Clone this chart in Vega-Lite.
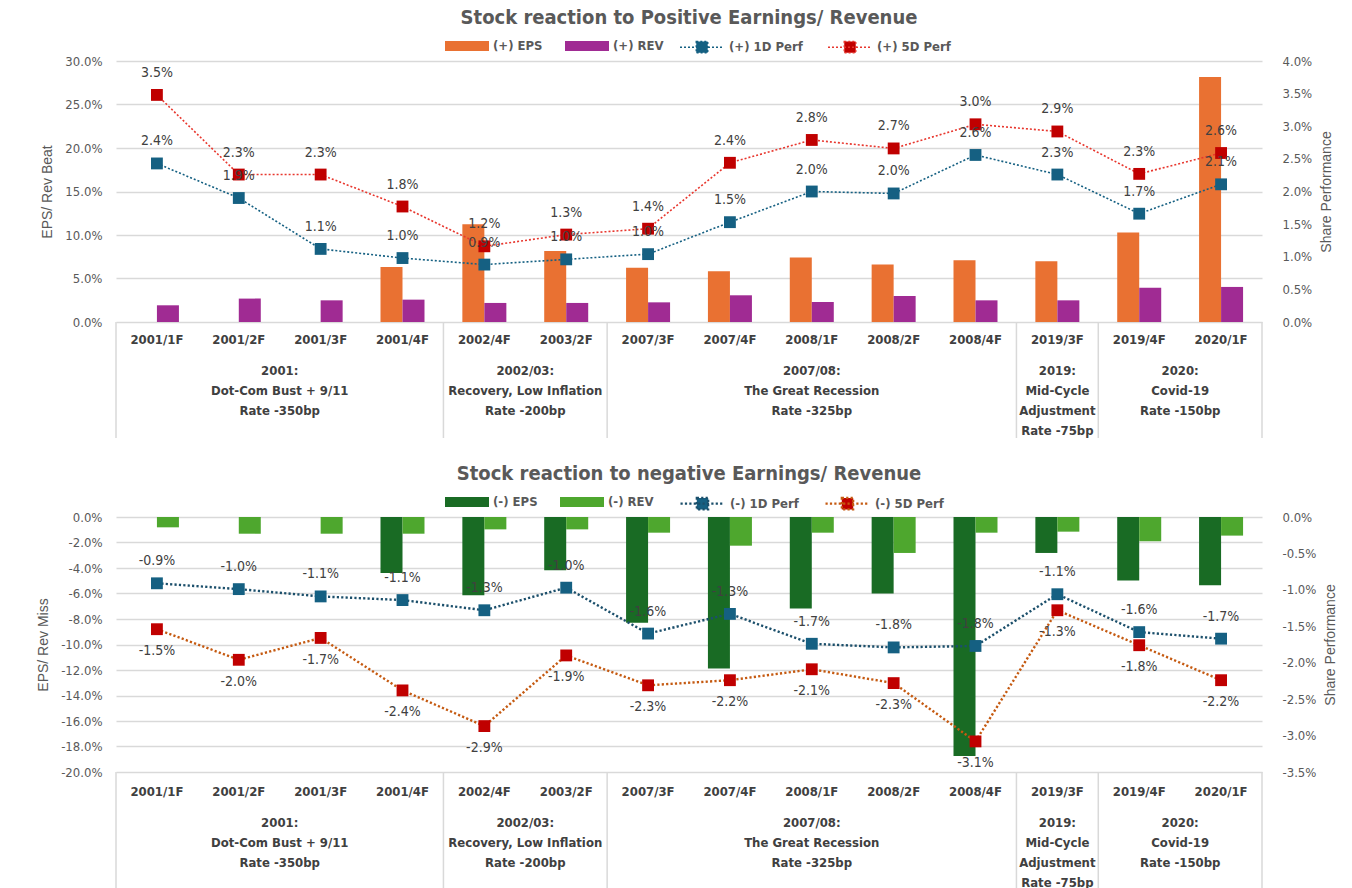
{
  "$schema": "https://vega.github.io/schema/vega-lite/v6.json",
  "padding": {"left": 36, "top": 8, "right": 10, "bottom": 0},
  "background": "white",
  "datasets": {
    "posBars": [
      {"cat": "2001/1F", "series": "(+) EPS", "v": 0}, {"cat": "2001/1F", "series": "(+) REV", "v": 0.0192},
      {"cat": "2001/2F", "series": "(+) EPS", "v": 0}, {"cat": "2001/2F", "series": "(+) REV", "v": 0.0269},
      {"cat": "2001/3F", "series": "(+) EPS", "v": 0}, {"cat": "2001/3F", "series": "(+) REV", "v": 0.0249},
      {"cat": "2001/4F", "series": "(+) EPS", "v": 0.0633}, {"cat": "2001/4F", "series": "(+) REV", "v": 0.0257},
      {"cat": "2002/4F", "series": "(+) EPS", "v": 0.1124}, {"cat": "2002/4F", "series": "(+) REV", "v": 0.0219},
      {"cat": "2003/2F", "series": "(+) EPS", "v": 0.0817}, {"cat": "2003/2F", "series": "(+) REV", "v": 0.0219},
      {"cat": "2007/3F", "series": "(+) EPS", "v": 0.0625}, {"cat": "2007/3F", "series": "(+) REV", "v": 0.0226},
      {"cat": "2007/4F", "series": "(+) EPS", "v": 0.0583}, {"cat": "2007/4F", "series": "(+) REV", "v": 0.0307},
      {"cat": "2008/1F", "series": "(+) EPS", "v": 0.0740}, {"cat": "2008/1F", "series": "(+) REV", "v": 0.0230},
      {"cat": "2008/2F", "series": "(+) EPS", "v": 0.0660}, {"cat": "2008/2F", "series": "(+) REV", "v": 0.0299},
      {"cat": "2008/4F", "series": "(+) EPS", "v": 0.0710}, {"cat": "2008/4F", "series": "(+) REV", "v": 0.0249},
      {"cat": "2019/3F", "series": "(+) EPS", "v": 0.0698}, {"cat": "2019/3F", "series": "(+) REV", "v": 0.0249},
      {"cat": "2019/4F", "series": "(+) EPS", "v": 0.1028}, {"cat": "2019/4F", "series": "(+) REV", "v": 0.0395},
      {"cat": "2020/1F", "series": "(+) EPS", "v": 0.2816}, {"cat": "2020/1F", "series": "(+) REV", "v": 0.0403}
    ],
    "posLines": [
      {"cat": "2001/1F", "series": "(+) 1D Perf", "v": 0.0243}, {"cat": "2001/1F", "series": "(+) 5D Perf", "v": 0.0348},
      {"cat": "2001/2F", "series": "(+) 1D Perf", "v": 0.0190}, {"cat": "2001/2F", "series": "(+) 5D Perf", "v": 0.0226},
      {"cat": "2001/3F", "series": "(+) 1D Perf", "v": 0.0112}, {"cat": "2001/3F", "series": "(+) 5D Perf", "v": 0.0226},
      {"cat": "2001/4F", "series": "(+) 1D Perf", "v": 0.0098}, {"cat": "2001/4F", "series": "(+) 5D Perf", "v": 0.0177},
      {"cat": "2002/4F", "series": "(+) 1D Perf", "v": 0.0088}, {"cat": "2002/4F", "series": "(+) 5D Perf", "v": 0.0116},
      {"cat": "2003/2F", "series": "(+) 1D Perf", "v": 0.0096}, {"cat": "2003/2F", "series": "(+) 5D Perf", "v": 0.0134},
      {"cat": "2007/3F", "series": "(+) 1D Perf", "v": 0.0104}, {"cat": "2007/3F", "series": "(+) 5D Perf", "v": 0.0143},
      {"cat": "2007/4F", "series": "(+) 1D Perf", "v": 0.0153}, {"cat": "2007/4F", "series": "(+) 5D Perf", "v": 0.0244},
      {"cat": "2008/1F", "series": "(+) 1D Perf", "v": 0.0200}, {"cat": "2008/1F", "series": "(+) 5D Perf", "v": 0.0279},
      {"cat": "2008/2F", "series": "(+) 1D Perf", "v": 0.0197}, {"cat": "2008/2F", "series": "(+) 5D Perf", "v": 0.0266},
      {"cat": "2008/4F", "series": "(+) 1D Perf", "v": 0.0256}, {"cat": "2008/4F", "series": "(+) 5D Perf", "v": 0.0303},
      {"cat": "2019/3F", "series": "(+) 1D Perf", "v": 0.0226}, {"cat": "2019/3F", "series": "(+) 5D Perf", "v": 0.0292},
      {"cat": "2019/4F", "series": "(+) 1D Perf", "v": 0.0166}, {"cat": "2019/4F", "series": "(+) 5D Perf", "v": 0.0227},
      {"cat": "2020/1F", "series": "(+) 1D Perf", "v": 0.0211}, {"cat": "2020/1F", "series": "(+) 5D Perf", "v": 0.0259}
    ],
    "negBars": [
      {"cat": "2001/1F", "series": "(-) EPS", "v": 0}, {"cat": "2001/1F", "series": "(-) REV", "v": -0.0081},
      {"cat": "2001/2F", "series": "(-) EPS", "v": 0}, {"cat": "2001/2F", "series": "(-) REV", "v": -0.0131},
      {"cat": "2001/3F", "series": "(-) EPS", "v": 0}, {"cat": "2001/3F", "series": "(-) REV", "v": -0.0131},
      {"cat": "2001/4F", "series": "(-) EPS", "v": -0.0439}, {"cat": "2001/4F", "series": "(-) REV", "v": -0.0131},
      {"cat": "2002/4F", "series": "(-) EPS", "v": -0.0614}, {"cat": "2002/4F", "series": "(-) REV", "v": -0.0097},
      {"cat": "2003/2F", "series": "(-) EPS", "v": -0.0418}, {"cat": "2003/2F", "series": "(-) REV", "v": -0.0097},
      {"cat": "2007/3F", "series": "(-) EPS", "v": -0.0830}, {"cat": "2007/3F", "series": "(-) REV", "v": -0.0123},
      {"cat": "2007/4F", "series": "(-) EPS", "v": -0.1188}, {"cat": "2007/4F", "series": "(-) REV", "v": -0.0225},
      {"cat": "2008/1F", "series": "(-) EPS", "v": -0.0718}, {"cat": "2008/1F", "series": "(-) REV", "v": -0.0123},
      {"cat": "2008/2F", "series": "(-) EPS", "v": -0.0600}, {"cat": "2008/2F", "series": "(-) REV", "v": -0.0282},
      {"cat": "2008/4F", "series": "(-) EPS", "v": -0.1875}, {"cat": "2008/4F", "series": "(-) REV", "v": -0.0123},
      {"cat": "2019/3F", "series": "(-) EPS", "v": -0.0282}, {"cat": "2019/3F", "series": "(-) REV", "v": -0.0115},
      {"cat": "2019/4F", "series": "(-) EPS", "v": -0.0499}, {"cat": "2019/4F", "series": "(-) REV", "v": -0.0191},
      {"cat": "2020/1F", "series": "(-) EPS", "v": -0.0535}, {"cat": "2020/1F", "series": "(-) REV", "v": -0.0146}
    ],
    "negLines": [
      {"cat": "2001/1F", "series": "(-) 1D Perf", "v": -0.0091}, {"cat": "2001/1F", "series": "(-) 5D Perf", "v": -0.0154},
      {"cat": "2001/2F", "series": "(-) 1D Perf", "v": -0.0099}, {"cat": "2001/2F", "series": "(-) 5D Perf", "v": -0.0196},
      {"cat": "2001/3F", "series": "(-) 1D Perf", "v": -0.0109}, {"cat": "2001/3F", "series": "(-) 5D Perf", "v": -0.0166},
      {"cat": "2001/4F", "series": "(-) 1D Perf", "v": -0.0114}, {"cat": "2001/4F", "series": "(-) 5D Perf", "v": -0.0238},
      {"cat": "2002/4F", "series": "(-) 1D Perf", "v": -0.0128}, {"cat": "2002/4F", "series": "(-) 5D Perf", "v": -0.0287},
      {"cat": "2003/2F", "series": "(-) 1D Perf", "v": -0.0097}, {"cat": "2003/2F", "series": "(-) 5D Perf", "v": -0.0190},
      {"cat": "2007/3F", "series": "(-) 1D Perf", "v": -0.0160}, {"cat": "2007/3F", "series": "(-) 5D Perf", "v": -0.0231},
      {"cat": "2007/4F", "series": "(-) 1D Perf", "v": -0.0133}, {"cat": "2007/4F", "series": "(-) 5D Perf", "v": -0.0224},
      {"cat": "2008/1F", "series": "(-) 1D Perf", "v": -0.0174}, {"cat": "2008/1F", "series": "(-) 5D Perf", "v": -0.0209},
      {"cat": "2008/2F", "series": "(-) 1D Perf", "v": -0.0179}, {"cat": "2008/2F", "series": "(-) 5D Perf", "v": -0.0228},
      {"cat": "2008/4F", "series": "(-) 1D Perf", "v": -0.0177}, {"cat": "2008/4F", "series": "(-) 5D Perf", "v": -0.0308},
      {"cat": "2019/3F", "series": "(-) 1D Perf", "v": -0.0106}, {"cat": "2019/3F", "series": "(-) 5D Perf", "v": -0.0128},
      {"cat": "2019/4F", "series": "(-) 1D Perf", "v": -0.0158}, {"cat": "2019/4F", "series": "(-) 5D Perf", "v": -0.0176},
      {"cat": "2020/1F", "series": "(-) 1D Perf", "v": -0.0167}, {"cat": "2020/1F", "series": "(-) 5D Perf", "v": -0.0224}
    ],
    "cats": [
      {"cat": "2001/1F"}, {"cat": "2001/2F"}, {"cat": "2001/3F"}, {"cat": "2001/4F"}, {"cat": "2002/4F"}, {"cat": "2003/2F"}, {"cat": "2007/3F"},
      {"cat": "2007/4F"}, {"cat": "2008/1F"}, {"cat": "2008/2F"}, {"cat": "2008/4F"}, {"cat": "2019/3F"}, {"cat": "2019/4F"}, {"cat": "2020/1F"}
    ],
    "seps": [
      {"cat": "2001/1F", "edge": "start"}, {"cat": "2002/4F", "edge": "start"}, {"cat": "2007/3F", "edge": "start"},
      {"cat": "2019/3F", "edge": "start"}, {"cat": "2019/4F", "edge": "start"}, {"cat": "2020/1F", "edge": "end"}
    ],
    "groups": [
      {"mid": "2001/3F", "even": true, "label": "2001:\nDot-Com Bust + 9/11\nRate -350bp"},
      {"mid": "2003/2F", "even": true, "label": "2002/03:\nRecovery, Low Inflation\nRate -200bp"},
      {"mid": "2008/1F", "even": false, "label": "2007/08:\nThe Great Recession\nRate -325bp"},
      {"mid": "2019/3F", "even": false, "label": "2019:\nMid-Cycle\nAdjustment\nRate -75bp"},
      {"mid": "2020/1F", "even": true, "label": "2020:\nCovid-19\nRate -150bp"}
    ]
  },
  "config": {
    "view": {"stroke": null},
    "font": "Liberation Sans Narrow, DejaVu Sans Condensed, Roboto Condensed, sans-serif",
    "locale": {"number": {"decimal": ".", "thousands": ",", "grouping": [3], "currency": ["$", ""], "minus": "-"}},
    "axis": {
      "labelFont": "Liberation Sans Narrow, DejaVu Sans Condensed, Roboto Condensed, sans-serif",
      "labelFontSize": 13, "labelColor": "#595959",
      "titleFont": "Liberation Sans, Arial, sans-serif", "titleFontSize": 14, "titleFontWeight": "normal", "titleColor": "#595959",
      "domain": false, "ticks": false
    },
    "legend": {"labelFont": "Liberation Sans Narrow, DejaVu Sans Condensed, Roboto Condensed, sans-serif", "labelFontSize": 13, "labelFontWeight": "bold", "labelColor": "#595959"},
    "title": {"font": "Liberation Sans Narrow, DejaVu Sans Condensed, Roboto Condensed, sans-serif", "fontSize": 20, "fontWeight": "bold", "color": "#595959", "anchor": "middle"},
    "text": {"font": "Liberation Sans Narrow, DejaVu Sans Condensed, Roboto Condensed, sans-serif"}
  },
  "spacing": 25,
  "resolve": {"scale": {"color": "independent", "fill": "independent", "stroke": "independent", "x": "independent", "y": "independent"}},
  "vconcat": [
    {
      "spacing": 0,
      "bounds": "flush",
      "resolve": {"scale": {"x": "independent", "y": "independent"}},
      "vconcat": [
        {
          "width": 1146, "height": 261,
          "title": {"text": "Stock reaction to Positive Earnings/ Revenue", "offset": 27},
          "resolve": {"scale": {"y": "independent"}},
          "layer": [
            {
              "data": {"name": "posBars"},
              "encoding": {
                "x": {"field": "cat", "type": "nominal", "scale": {"domain": ["2001/1F","2001/2F","2001/3F","2001/4F","2002/4F","2003/2F","2007/3F","2007/4F","2008/1F","2008/2F","2008/4F","2019/3F","2019/4F","2020/1F"], "paddingInner": 0, "paddingOuter": 0}, "axis": null},
                "y": {"field": "v", "type": "quantitative", "scale": {"domain": [0, 0.3]}, "axis": {"title": "EPS/ Rev Beat", "format": ".1%", "values": [0, 0.05, 0.1, 0.15, 0.2, 0.25, 0.3], "grid": true, "gridColor": "#D9D9D9", "gridWidth": 1.5, "labelPadding": 14, "titlePadding": 10}},
                "color": {
                  "field": "series", "type": "nominal",
                  "scale": {"domain": ["(+) EPS", "(+) REV"], "range": ["#E97132", "#A02B93"]},
                  "legend": {"title": null, "orient": "none", "legendX": 329, "legendY": -37, "direction": "horizontal", "columnPadding": 22, "labelOffset": 4, "symbolSize": 1936, "symbolType": "M-1,-0.23H1V0.23H-1Z", "symbolStrokeWidth": 0}
                }
              },
              "layer": [
                {"transform": [{"filter": "datum.series === '(+) EPS'"}], "mark": {"type": "bar", "width": 22, "xOffset": -11}},
                {"transform": [{"filter": "datum.series === '(+) REV'"}], "mark": {"type": "bar", "width": 22, "xOffset": 11}}
              ]
            },
            {
              "data": {"name": "posLines"},
              "encoding": {
                "x": {"field": "cat", "type": "nominal", "scale": {"domain": ["2001/1F","2001/2F","2001/3F","2001/4F","2002/4F","2003/2F","2007/3F","2007/4F","2008/1F","2008/2F","2008/4F","2019/3F","2019/4F","2020/1F"], "paddingInner": 0, "paddingOuter": 0}, "axis": null},
                "y": {"field": "v", "type": "quantitative", "scale": {"domain": [0, 0.04]}, "axis": {"orient": "right", "title": "Share Performance", "titleAngle": 270, "format": ".1%", "values": [0, 0.005, 0.01, 0.015, 0.02, 0.025, 0.03, 0.035, 0.04], "grid": false, "labelPadding": 20, "titlePadding": 22}}
              },
              "layer": [
                {
                  "mark": {"type": "line", "strokeDash": [2, 2], "strokeWidth": 1.6},
                  "encoding": {
                    "stroke": {"field": "series", "type": "nominal", "scale": {"domain": ["(+) 1D Perf", "(+) 5D Perf"], "range": ["#156082", "#E8372E"]},
                      "legend": {"title": null, "orient": "none", "legendX": 563, "legendY": -37, "direction": "horizontal", "columnPadding": 22, "labelOffset": 4, "symbolSize": 1936, "symbolType": "M-1,0H1M-0.26,-0.26H0.26V0.26H-0.26Z", "symbolStrokeWidth": 1.5, "symbolDash": [2, 2]}}
                  }
                },
                {
                  "mark": {"type": "point", "shape": "square", "filled": true, "size": 140, "opacity": 1},
                  "encoding": {
                    "fill": {"field": "series", "type": "nominal", "scale": {"domain": ["(+) 1D Perf", "(+) 5D Perf"], "range": ["#156082", "#C00000"]},
                      "legend": {"title": null, "orient": "none", "legendX": 563, "legendY": -37, "direction": "horizontal", "columnPadding": 22, "labelOffset": 4, "symbolSize": 1936, "symbolType": "M-1,0H1M-0.26,-0.26H0.26V0.26H-0.26Z", "symbolStrokeWidth": 1.5, "symbolDash": [2, 2]}}
                  }
                },
                {
                  "mark": {"type": "text", "dy": -22, "fontSize": 14, "color": "#404040"},
                  "encoding": {"text": {"field": "v", "type": "quantitative", "format": ".1%"}}
                }
              ]
            }
          ]
        },
        {
          "width": 1146, "height": 116,
          "layer": [
            {
              "data": {"name": "seps"}, "transform": [{"filter": "datum.edge === 'start'"}],
              "mark": {"type": "rule", "color": "#D9D9D9", "strokeWidth": 1.5},
              "encoding": {"x": {"field": "cat", "type": "nominal", "bandPosition": 0, "scale": {"domain": ["2001/1F","2001/2F","2001/3F","2001/4F","2002/4F","2003/2F","2007/3F","2007/4F","2008/1F","2008/2F","2008/4F","2019/3F","2019/4F","2020/1F"], "paddingInner": 0, "paddingOuter": 0}, "axis": null}}
            },
            {
              "data": {"name": "seps"}, "transform": [{"filter": "datum.edge === 'end'"}],
              "mark": {"type": "rule", "color": "#D9D9D9", "strokeWidth": 1.5},
              "encoding": {"x": {"field": "cat", "type": "nominal", "bandPosition": 1}}
            },
            {
              "data": {"name": "cats"},
              "mark": {"type": "text", "dy": -40, "fontSize": 13, "fontWeight": "bold", "color": "#404040"},
              "encoding": {"x": {"field": "cat", "type": "nominal", "bandPosition": 0.5}, "text": {"field": "cat", "type": "nominal"}}
            },
            {
              "data": {"name": "groups"}, "transform": [{"filter": "datum.even"}],
              "mark": {"type": "text", "baseline": "top", "dy": -15, "lineBreak": "\n", "lineHeight": 20, "fontSize": 13, "fontWeight": "bold", "color": "#404040"},
              "encoding": {"x": {"field": "mid", "type": "nominal", "bandPosition": 0}, "text": {"field": "label", "type": "nominal"}}
            },
            {
              "data": {"name": "groups"}, "transform": [{"filter": "!datum.even"}],
              "mark": {"type": "text", "baseline": "top", "dy": -15, "lineBreak": "\n", "lineHeight": 20, "fontSize": 13, "fontWeight": "bold", "color": "#404040"},
              "encoding": {"x": {"field": "mid", "type": "nominal", "bandPosition": 0.5}, "text": {"field": "label", "type": "nominal"}}
            }
          ]
        }
      ]
    },
    {
      "spacing": 0,
      "bounds": "flush",
      "resolve": {"scale": {"x": "independent", "y": "independent"}},
      "vconcat": [
        {
          "width": 1146, "height": 255,
          "title": {"text": "Stock reaction to negative Earnings/ Revenue", "offset": 27},
          "resolve": {"scale": {"y": "independent"}},
          "layer": [
            {
              "data": {"name": "negBars"},
              "encoding": {
                "x": {"field": "cat", "type": "nominal", "scale": {"domain": ["2001/1F","2001/2F","2001/3F","2001/4F","2002/4F","2003/2F","2007/3F","2007/4F","2008/1F","2008/2F","2008/4F","2019/3F","2019/4F","2020/1F"], "paddingInner": 0, "paddingOuter": 0}, "axis": null},
                "y": {"field": "v", "type": "quantitative", "scale": {"domain": [-0.2, 0]}, "axis": {"title": "EPS/ Rev Miss", "format": ".1%", "values": [-0.2, -0.18, -0.16, -0.14, -0.12, -0.1, -0.08, -0.06, -0.04, -0.02, 0], "grid": true, "gridColor": "#D9D9D9", "gridWidth": 1.5, "labelPadding": 14, "titlePadding": 10}},
                "color": {
                  "field": "series", "type": "nominal",
                  "scale": {"domain": ["(-) EPS", "(-) REV"], "range": ["#196B24", "#4EA72E"]},
                  "legend": {"title": null, "orient": "none", "legendX": 329, "legendY": -37, "direction": "horizontal", "columnPadding": 22, "labelOffset": 4, "symbolSize": 1936, "symbolType": "M-1,-0.23H1V0.23H-1Z", "symbolStrokeWidth": 0}
                }
              },
              "layer": [
                {"transform": [{"filter": "datum.series === '(-) EPS'"}], "mark": {"type": "bar", "width": 22, "xOffset": -11}},
                {"transform": [{"filter": "datum.series === '(-) REV'"}], "mark": {"type": "bar", "width": 22, "xOffset": 11}}
              ]
            },
            {
              "data": {"name": "negLines"},
              "encoding": {
                "x": {"field": "cat", "type": "nominal", "scale": {"domain": ["2001/1F","2001/2F","2001/3F","2001/4F","2002/4F","2003/2F","2007/3F","2007/4F","2008/1F","2008/2F","2008/4F","2019/3F","2019/4F","2020/1F"], "paddingInner": 0, "paddingOuter": 0}, "axis": null},
                "y": {"field": "v", "type": "quantitative", "scale": {"domain": [-0.035, 0]}, "axis": {"orient": "right", "title": "Share Performance", "titleAngle": 270, "format": ".1%", "values": [-0.035, -0.03, -0.025, -0.02, -0.015, -0.01, -0.005, 0], "grid": false, "labelPadding": 20, "titlePadding": 22}}
              },
              "layer": [
                {
                  "mark": {"type": "line", "strokeDash": [2.2, 2.2], "strokeWidth": 2.4},
                  "encoding": {
                    "stroke": {"field": "series", "type": "nominal", "scale": {"domain": ["(-) 1D Perf", "(-) 5D Perf"], "range": ["#1B4F6B", "#C55A11"]},
                      "legend": {"title": null, "orient": "none", "legendX": 563, "legendY": -37, "direction": "horizontal", "columnPadding": 22, "labelOffset": 4, "symbolSize": 1936, "symbolType": "M-1,0H1M-0.26,-0.26H0.26V0.26H-0.26Z", "symbolStrokeWidth": 2.2, "symbolDash": [2.2, 2.2]}}
                  }
                },
                {
                  "mark": {"type": "point", "shape": "square", "filled": true, "size": 140, "opacity": 1},
                  "encoding": {
                    "fill": {"field": "series", "type": "nominal", "scale": {"domain": ["(-) 1D Perf", "(-) 5D Perf"], "range": ["#156082", "#C00000"]},
                      "legend": {"title": null, "orient": "none", "legendX": 563, "legendY": -37, "direction": "horizontal", "columnPadding": 22, "labelOffset": 4, "symbolSize": 1936, "symbolType": "M-1,0H1M-0.26,-0.26H0.26V0.26H-0.26Z", "symbolStrokeWidth": 2.2, "symbolDash": [2.2, 2.2]}}
                  }
                },
                {
                  "transform": [{"filter": "datum.series === '(-) 1D Perf'"}],
                  "mark": {"type": "text", "dy": -22, "fontSize": 14, "color": "#404040"},
                  "encoding": {"text": {"field": "v", "type": "quantitative", "format": ".1%"}}
                },
                {
                  "transform": [{"filter": "datum.series === '(-) 5D Perf'"}],
                  "mark": {"type": "text", "dy": 22, "fontSize": 14, "color": "#404040"},
                  "encoding": {"text": {"field": "v", "type": "quantitative", "format": ".1%"}}
                }
              ]
            }
          ]
        },
        {
          "width": 1146, "height": 116,
          "layer": [
            {
              "data": {"name": "seps"}, "transform": [{"filter": "datum.edge === 'start'"}],
              "mark": {"type": "rule", "color": "#D9D9D9", "strokeWidth": 1.5},
              "encoding": {"x": {"field": "cat", "type": "nominal", "bandPosition": 0, "scale": {"domain": ["2001/1F","2001/2F","2001/3F","2001/4F","2002/4F","2003/2F","2007/3F","2007/4F","2008/1F","2008/2F","2008/4F","2019/3F","2019/4F","2020/1F"], "paddingInner": 0, "paddingOuter": 0}, "axis": null}}
            },
            {
              "data": {"name": "seps"}, "transform": [{"filter": "datum.edge === 'end'"}],
              "mark": {"type": "rule", "color": "#D9D9D9", "strokeWidth": 1.5},
              "encoding": {"x": {"field": "cat", "type": "nominal", "bandPosition": 1}}
            },
            {
              "data": {"name": "cats"},
              "mark": {"type": "text", "dy": -38, "fontSize": 13, "fontWeight": "bold", "color": "#404040"},
              "encoding": {"x": {"field": "cat", "type": "nominal", "bandPosition": 0.5}, "text": {"field": "cat", "type": "nominal"}}
            },
            {
              "data": {"name": "groups"}, "transform": [{"filter": "datum.even"}],
              "mark": {"type": "text", "baseline": "top", "dy": -13, "lineBreak": "\n", "lineHeight": 20, "fontSize": 13, "fontWeight": "bold", "color": "#404040"},
              "encoding": {"x": {"field": "mid", "type": "nominal", "bandPosition": 0}, "text": {"field": "label", "type": "nominal"}}
            },
            {
              "data": {"name": "groups"}, "transform": [{"filter": "!datum.even"}],
              "mark": {"type": "text", "baseline": "top", "dy": -13, "lineBreak": "\n", "lineHeight": 20, "fontSize": 13, "fontWeight": "bold", "color": "#404040"},
              "encoding": {"x": {"field": "mid", "type": "nominal", "bandPosition": 0.5}, "text": {"field": "label", "type": "nominal"}}
            }
          ]
        }
      ]
    }
  ]
}
